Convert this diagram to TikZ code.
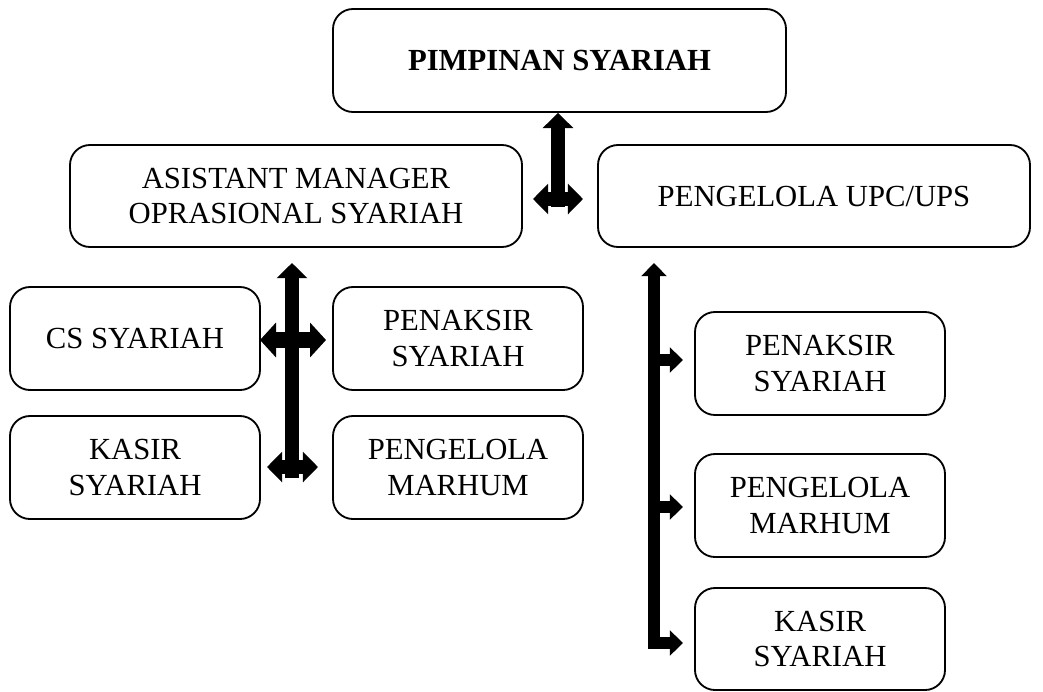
\documentclass[tikz,border=0pt]{standalone}
\usepackage{fontspec}
\setmainfont{Liberation Serif}
\usetikzlibrary{positioning, arrows.meta}

\begin{document}
\begin{tikzpicture}[
    x=0.025cm, y=-0.025cm,
    box_style/.style 2 args={draw, rounded corners=0.5cm, line width=1.3pt, align=center,
        font=\fontsize{21.8}{25}\selectfont, inner sep=0pt,
        minimum width=#1*0.025cm, minimum height=#2*0.025cm},
    fat_style/.style={line width=0.36cm, >={Triangle[width=0.75cm, length=0.38cm]}},
    wide_style/.style={line width=0.38cm, >={Triangle[width=0.85cm, length=0.4cm]}},
    branch_style/.style={line width=0.3cm, >={Triangle[width=0.62cm, length=0.33cm]}}
]
    \useasboundingbox (0,0) rectangle (1043,691);

    % Boxes
    \node[box_style={453}{103}] (pimpinan) at (559.5,60.5) {\textbf{PIMPINAN SYARIAH}};
    \node[box_style={452}{102}] (asisten) at (296,196) {ASISTANT MANAGER\\OPRASIONAL SYARIAH};
    \node[box_style={432}{102}] (upc) at (814,196) {PENGELOLA UPC/UPS};
    \node[box_style={250}{103}] (cs) at (135,338.5) {CS SYARIAH};
    \node[box_style={250}{103}] (penaksirL) at (458,338.5) {PENAKSIR\\SYARIAH};
    \node[box_style={250}{103}] (kasirL) at (135,467.5) {KASIR\\SYARIAH};
    \node[box_style={250}{103}] (marhumL) at (458,467.5) {PENGELOLA\\MARHUM};
    \node[box_style={250}{103}] (penaksirR) at (820,363.5) {PENAKSIR\\SYARIAH};
    \node[box_style={250}{103}] (marhumR) at (820,505.5) {PENGELOLA\\MARHUM};
    \node[box_style={250}{102}] (kasirR) at (820,639) {KASIR\\SYARIAH};

    % Junctions
    \coordinate (mid) at (558,207);
    \coordinate (mid_l) at (533,199);
    \coordinate (mid_r) at (583,199);
    \coordinate (left_bot) at (292,478);
    \coordinate (left_top) at (292,263);
    \coordinate (up_l) at (260,340);
    \coordinate (up_r) at (326,340);
    \coordinate (low_l) at (267,467);
    \coordinate (low_r) at (318,467);
    \coordinate (right_bot) at (654,649);
    \coordinate (right_top) at (654,263);

    % Arrows
    \draw[fat_style, ->] (mid) -- (mid |- pimpinan.south);
    \draw[fat_style, <->] (mid_l) -- (mid_r);
    \draw[fat_style, ->] (left_bot) -- (left_top);
    \draw[wide_style, <->] (up_l) -- (up_r);
    \draw[fat_style, <->] (low_l) -- (low_r);
    \draw[branch_style, ->] (right_bot) -- (right_top);
    \foreach \y in {360, 507, 643} {
        \draw[branch_style, ->] (648,\y) -- (683,\y);
    }
\end{tikzpicture}
\end{document}
